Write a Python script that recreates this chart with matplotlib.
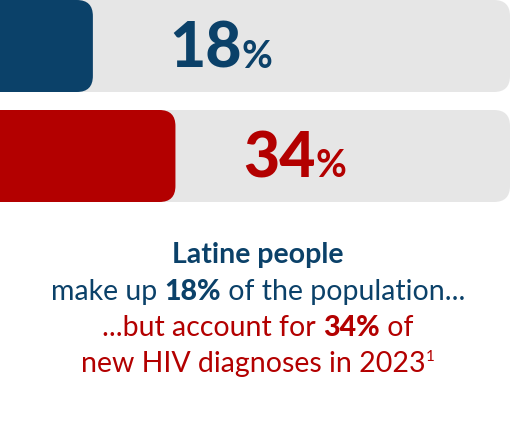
import matplotlib
matplotlib.use('Agg')
import matplotlib.pyplot as plt
from matplotlib.patches import FancyBboxPatch

W, H = 516, 422
shares = [18, 34]
labels = ["18", "34"]
colors = ['#0b4169', '#b30000']
track = '#e6e6e6'

fig = plt.figure(figsize=(W / 100, H / 100), dpi=100)
ax = fig.add_axes([0, 0, 1, 1])
ax.set_xlim(0, W)
ax.set_ylim(H, 0)
ax.axis('off')

bar_top = [0, 110]
bar_h = 92
track_w = 510
for i, (s, c, lab) in enumerate(zip(shares, colors, labels)):
    y0 = bar_top[i]
    ax.add_patch(FancyBboxPatch((-30, y0), track_w + 30, bar_h,
                                boxstyle="round,pad=0,rounding_size=16",
                                fc=track, ec='none'))
    ax.add_patch(FancyBboxPatch((-30, y0), s / 100 * W + 30, bar_h,
                                boxstyle="round,pad=0,rounding_size=16",
                                fc=c, ec='none'))

fig.canvas.draw()
renderer = fig.canvas.get_renderer()


def runs(xc, y, parts):
    # parts: list of (text, color, size, weight, dy); centred at xc
    objs = []
    for t, c, sz, wt, dy in parts:
        objs.append(ax.text(0, y + dy, t, color=c, fontsize=sz, fontweight=wt,
                            family='Lato', va='baseline', ha='left'))
    widths = [o.get_window_extent(renderer).width for o in objs]
    x = xc - sum(widths) / 2
    for o, w in zip(objs, widths):
        o.set_x(x)
        x += w


runs(221, 68, [(labels[0], colors[0], 45, 'black', 0), ("%", colors[0], 27, 'bold', 0)])
runs(295, 177, [(labels[1], colors[1], 45, 'black', 0), ("%", colors[1], 27, 'bold', 0)])

navy, red = colors
fs = 20.5
runs(258, 263, [("Latine people", navy, fs, 'bold', 0)])
runs(258, 300, [("make up ", navy, fs, 'normal', 0), ("18%", navy, fs, 'black', 0),
                (" of the population...", navy, fs, 'normal', 0)])
runs(258, 336, [("...but account for ", red, fs, 'normal', 0), ("34%", red, fs, 'black', 0),
                (" of", red, fs, 'normal', 0)])
runs(258, 372, [("new HIV diagnoses in 2023", red, fs, 'normal', 0), ("1", red, 11, 'normal', -11)])

fig.savefig('out.png', dpi=100, facecolor='white')
